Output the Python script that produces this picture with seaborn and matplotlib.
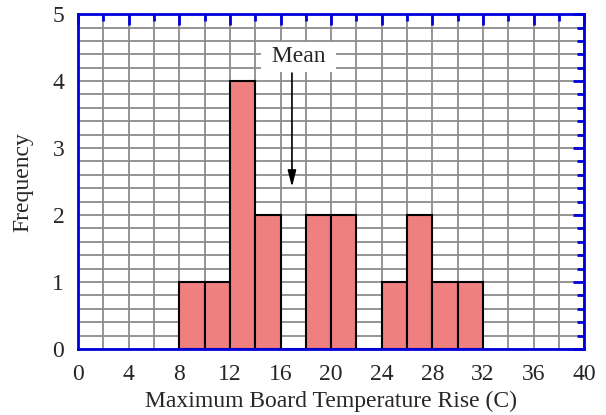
import matplotlib
matplotlib.use("Agg")
import matplotlib.pyplot as plt
from matplotlib.ticker import MultipleLocator
import seaborn as sns

# histogram data
bin_edges = [8, 10, 12, 14, 16, 18, 20, 22, 24, 26, 28, 30, 32]
counts = [1, 1, 4, 2, 0, 2, 2, 0, 1, 2, 1, 1]
mean_x = 16.9

bin_centers = [(a + b) / 2 for a, b in zip(bin_edges[:-1], bin_edges[1:])]

sns.set_style("white")
plt.rcParams['font.family'] = ['Liberation Serif', 'DejaVu Serif']

fig, ax = plt.subplots(figsize=(6.06, 4.15), dpi=100)
fig.subplots_adjust(left=0.129, right=0.964, top=0.966, bottom=0.159)

sns.histplot(x=bin_centers, weights=counts, bins=bin_edges, ax=ax,
             color="#F08080", alpha=1, edgecolor="black", linewidth=1.5)

ax.set_xlim(0, 40)
ax.set_ylim(0, 5)
ax.xaxis.set_major_locator(MultipleLocator(4))
ax.xaxis.set_minor_locator(MultipleLocator(2))
ax.yaxis.set_major_locator(MultipleLocator(1))
ax.yaxis.set_minor_locator(MultipleLocator(0.2))

ax.set_axisbelow(True)
ax.grid(which="both", color="#8c8c8c", linewidth=1.3)

for s in ax.spines.values():
    s.set_color("#0000dd")
    s.set_linewidth(2)
    s.set_zorder(5)
ax.tick_params(which="both", direction="in", color="#0000dd", width=2,
               top=True, right=True, labelsize=17)
ax.tick_params(axis="x", pad=11)
ax.tick_params(axis="y", pad=10)
ax.tick_params(which="major", length=8)
ax.tick_params(which="minor", length=5)

ax.set_xlabel("Maximum Board Temperature Rise (C)", fontsize=17, labelpad=4)
ax.set_ylabel("Frequency", fontsize=17, labelpad=14)

ax.text(mean_x + 0.5, 4.36, " Mean ", ha="center", va="center", fontsize=17,
        bbox=dict(boxstyle="square,pad=0.2", fc="white", ec="none"))
ax.annotate("", xy=(mean_x, 2.42), xytext=(mean_x, 4.12),
            arrowprops=dict(arrowstyle="-|>,head_length=0.7,head_width=0.18",
                            color="black", lw=1.2, shrinkA=0, shrinkB=0,
                            mutation_scale=14))

fig.savefig("out.png", dpi=100)
